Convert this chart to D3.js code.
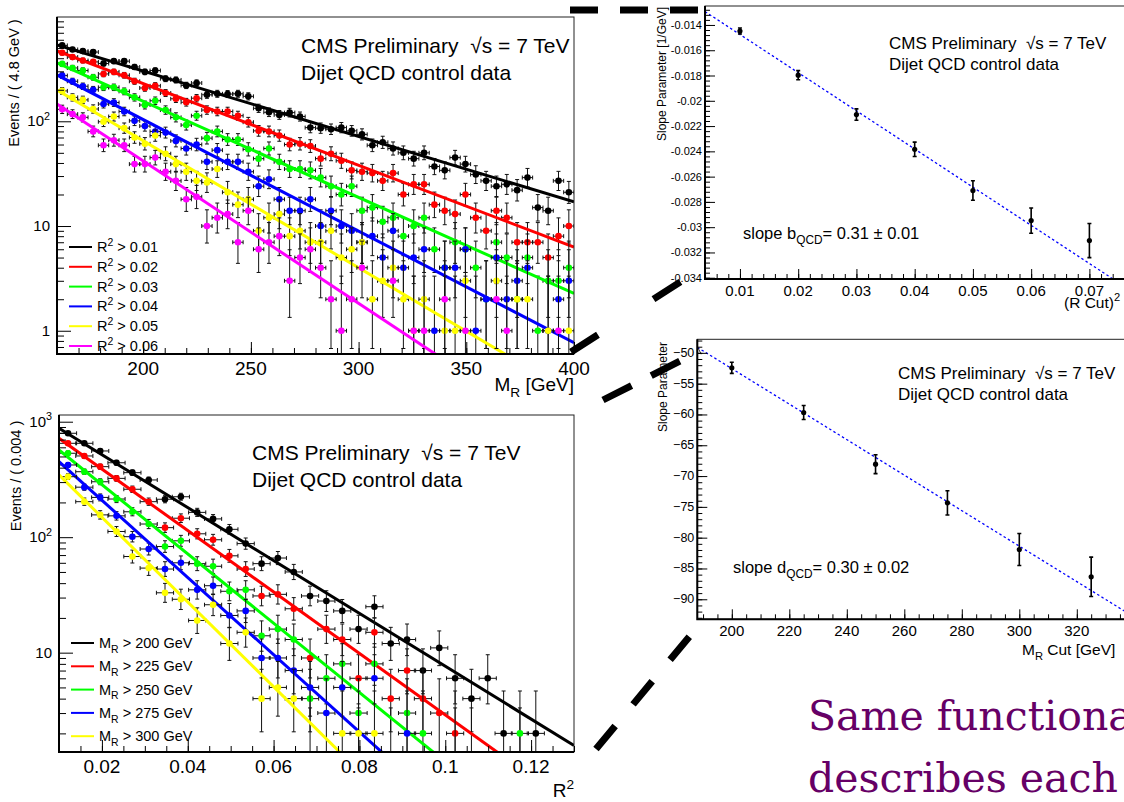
<!DOCTYPE html>
<html>
<head>
<meta charset="utf-8">
<script src="https://cdn.jsdelivr.net/npm/d3@7"></script>
<style>
  body { margin: 0; background: #fff; }
  svg { display: block; font-family: "Liberation Sans", Arial, sans-serif; }
</style>
</head>
<body>
<svg width="1124" height="802"></svg>
<script>
// ---- data ----
const cutColors = ["#000000", "#ff0000", "#00ff00", "#0000ff", "#ffff00", "#ff00ff"];

// top-left: M_R spectra (4.8 GeV bins) for R^2 cuts
const mrBins = [162.4, 167.2, 172, 176.8, 181.6, 186.4, 191.2, 196, 200.8, 205.6,
  210.4, 215.2, 220, 224.8, 229.6, 234.4, 239.2, 244, 248.8, 253.6,
  258.4, 263.2, 268, 272.8, 277.6, 282.4, 287.2, 292, 296.8, 301.6,
  306.4, 311.2, 316, 320.8, 325.6, 330.4, 335.2, 340, 344.8, 349.6,
  354.4, 359.2, 364, 368.8, 373.6, 378.4, 383.2, 388, 392.8, 397.6];
const r2Labels = ["R^{2} > 0.01", "R^{2} > 0.02", "R^{2} > 0.03", "R^{2} > 0.04", "R^{2} > 0.05", "R^{2} > 0.06"];
const mrR2gt001 = [530, 485, 468, 458, 356, 375, 375, 330, 296, 305, 255, 248, 220, 232, 179, 183, 182, 183, 173, 133,
  122, 115, 121, 111, 87, 86, 84, 87, 81, 75, 59, 63, 55, 50, 44, 50, 37, 34, 45, 39, 31, 27, 24, 25, 22, 29, 15, 14, 27, 21];
const mrR2gt002 = [451, 410, 380, 369, 283, 296, 275, 241, 208, 218, 186, 164, 152, 166, 128, 124, 124, 113, 98, 81,
  80, 73, 60, 61, 58, 44, 49, 42, 34, 33, 32, 27, 32, 20, 25, 25, 16, 14, 13, 20, 12, 9, 14, 12, 7, 7, 7, 5, 8, 10];
const mrR2gt003 = [353, 323, 305, 263, 211, 211, 193, 169, 143, 157, 128, 109, 92, 113, 69, 80, 67, 67, 54, 44,
  55, 41, 35, 35, 34, 29, 24, 20, 24, 14, 15, 11, 12, 8, 10, 12, 6, 4, 7, 6, 4, 2, 7, 5, 2, 5, 1, 3, 3, 4];
const mrR2gt004 = [273, 241, 216, 200, 146, 151, 124, 101, 90, 80, 78, 65, 55, 60, 41, 53, 41, 41, 33, 24,
  28, 18, 14, 14, 18, 10, 14, 10, 9, 7, 8, 5, 9, 4, 5, 6, 1, 4, 4, 6, 1, 2, 5, 2, 3, 4, 0, 1, 2, 3];
const mrR2gt005 = [195, 169, 160, 131, 99, 111, 86, 70, 61, 73, 49, 39, 33, 27, 26, 35, 21, 16, 18, 9,
  12, 13, 8, 9, 7, 7, 9, 5, 6, 7, 2, 3, 4, 2, 1, 2, 0, 1, 1, 3, 0, 0, 3, 0, 2, 2, 0, 1, 0, 1];
const mrR2gt006 = [130, 117, 109, 80, 59, 66, 59, 39, 39, 45, 33, 27, 18, 19, 10, 12, 13, 7, 14, 6,
  7, 8, 3, 5, 6, 4, 2, 1, 2, 4, 0, 0, 3, 0, 1, 1, 0, 2, 0, 1, 0, 0, 2, 1, 0, 0, 0, 0, 1, 0];
const mrFitAt160 = [537, 471, 361, 277, 199, 146];
const mrFitAt400 = [17, 6.3, 2.27, 0.77, 0.245, 0.080];

// bottom-left: R^2 spectra for M_R cuts
const r2Bins = [0.0121, 0.0159, 0.0196, 0.0234, 0.0271, 0.0309, 0.0347, 0.0384, 0.0422, 0.0459,
  0.0497, 0.0535, 0.0572, 0.0610, 0.0647, 0.0685, 0.0723, 0.0760, 0.0798, 0.0835,
  0.0873, 0.0911, 0.0948, 0.0986, 0.1023, 0.1061, 0.1099, 0.1136, 0.1174, 0.1211];
const mrLabels = ["M_{R} > 200 GeV", "M_{R} > 225 GeV", "M_{R} > 250 GeV", "M_{R} > 275 GeV", "M_{R} > 300 GeV"];
const r2Mrgt200 = [794, 650, 558, 441, 362, 313, 213, 224, 164, 144, 117, 88, 59, 66, 50, 31, 28, 23, 16, 25, 12, 13, 7, 11, 6, 4, 6, 2, 1, 2];
const r2Mrgt225 = [650, 505, 408, 323, 260, 203, 121, 146, 107, 95, 69, 53, 31, 32, 24, 9, 16, 13, 6, 15, 4, 7, 4, 3, 2, 1, 0, 0, 0, 0];
const r2Mrgt250 = [533, 369, 302, 214, 166, 130, 83, 93, 59, 56, 34, 35, 14, 16, 13, 4, 6, 8, 3, 8, 1, 3, 2, 0, 1, 0, 0, 0, 2, 0];
const r2Mrgt275 = [422, 271, 221, 153, 101, 79, 53, 60, 35, 38, 21, 23, 9, 9, 7, 5, 3, 5, 1, 6, 0, 2, 0, 0, 0, 0, 0, 0, 0, 0];
const r2Mrgt300 = [334, 203, 156, 112, 68, 54, 33, 29, 19, 26, 12, 15, 4, 5, 4, 1, 0, 2, 2, 2, 0, 0, 0, 0, 0, 0, 0, 0, 0, 0];
const r2FitAt001 = [877, 718, 569, 451, 346];
const r2FitAt013 = [1.57, 0.46, 0.143, 0.0438, 0.0137];

// top-right: M_R slope vs R^2 cut
const rCut = [0.01, 0.02, 0.03, 0.04, 0.05, 0.06, 0.07];
const slopeB = [-0.01448, -0.01797, -0.02109, -0.02384, -0.0271, -0.02948, -0.03106];
const slopeBErr = [0.00024, 0.00036, 0.00045, 0.00057, 0.00077, 0.001, 0.00135];
const bFitX = [0.004, 0.078];
const bFitY = [-0.01294, -0.03529];

// middle-right: R^2 slope vs M_R cut
const mrCut = [200, 225, 250, 275, 300, 325];
const slopeD = [-52.43, -59.68, -68.07, -74.35, -81.92, -86.36];
const slopeDErr = [0.9, 1.14, 1.54, 1.97, 2.6, 3.2];
const dFitX = [188, 340];
const dFitY = [-49.1, -92.9];

// ---- drawing ----
const svg = d3.select("svg");
const cmsLine = "CMS Preliminary\u00A0\u00A0\u221As = 7 TeV";

function rich(g, x, y, str, size, anchor) {
  const t = g.append("text").attr("x", x).attr("y", y)
    .attr("font-size", size).attr("text-anchor", anchor || "start");
  let shift = 0;
  str.split(/(_\{[^}]*\}|\^\{[^}]*\})/).filter(s => s).forEach(s => {
    let target = 0, txt = s, fs = size;
    if (s[0] === "_") { target = size * 0.32; txt = s.slice(2, -1); fs = size * 0.72; }
    if (s[0] === "^") { target = -size * 0.42; txt = s.slice(2, -1); fs = size * 0.72; }
    t.append("tspan").attr("dy", target - shift).attr("font-size", fs).text(txt);
    shift = target;
  });
  return t;
}

function ticks(g, scale, orient, at, values, size) {
  const axis = (orient === "left" ? d3.axisLeft(scale) : d3.axisBottom(scale))
    .tickValues(values).tickSize(-size).tickFormat("");
  g.append("g").attr("transform", orient === "left" ? `translate(${at},0)` : `translate(0,${at})`)
    .call(axis)
    .call(s => s.select(".domain").remove())
    .call(s => s.selectAll("line").attr("stroke", "#000"));
}

function frame(g, f, thick) {
  g.append("rect").attr("x", f.left).attr("y", f.top)
    .attr("width", f.right - f.left).attr("height", f.bottom - f.top)
    .attr("fill", "none").attr("stroke", "#222").attr("stroke-width", 1);
  g.append("path").attr("d", `M${f.left},${f.top}V${f.bottom}H${f.right}`)
    .attr("fill", "none").attr("stroke", "#000").attr("stroke-width", thick);
}

function logMinor(domain) {
  const out = [];
  for (let e = -2; e <= 4; e++) for (let m = 1; m <= 9; m++) {
    const v = m * Math.pow(10, e);
    if (v >= domain[0] && v <= domain[1]) out.push(v);
  }
  return out;
}

function garwood(n) { return [n - Math.sqrt(n - 0.25), n + 1 + Math.sqrt(n + 0.75)]; }

function spectrum(cfg) {
  const g = svg.append("g");
  const x = d3.scaleLinear().domain(cfg.xDomain).range([cfg.left, cfg.right]);
  const y = d3.scaleLog().domain(cfg.yDomain).range([cfg.bottom, cfg.top]);
  svg.append("clipPath").attr("id", cfg.id).append("rect")
    .attr("x", cfg.left).attr("y", cfg.top)
    .attr("width", cfg.right - cfg.left).attr("height", cfg.bottom - cfg.top);
  const plot = g.append("g").attr("clip-path", `url(#${cfg.id})`);
  const line = d3.line().x(d => x(d[0])).y(d => y(d[1]));

  cfg.series.forEach((counts, k) => {
    const pts = counts.map((n, i) => ({ x: cfg.bins[i], n })).filter(d => d.n > 0);
    const s = plot.append("g");
    s.append("g").attr("stroke", "#111").attr("stroke-width", 1).attr("fill", "none")
      .selectAll("path").data(pts).join("path")
      .attr("d", d => {
        const yy = y(d.n), x1 = x(d.x - cfg.halfBin), x2 = x(d.x + cfg.halfBin), xc = x(d.x);
        const [lo, hi] = garwood(d.n);
        const y1 = y(lo), y2 = y(hi);
        return `M${x1},${yy}H${x2}M${x1},${yy - 2}V${yy + 2}M${x2},${yy - 2}V${yy + 2}` +
          `M${xc},${y1}V${y2}M${xc - 2},${y2}H${xc + 2}M${xc - 2},${y1}H${xc + 2}`;
      });
    s.selectAll("circle").data(pts).join("circle")
      .attr("cx", d => x(d.x)).attr("cy", d => y(d.n)).attr("r", 3.3)
      .attr("fill", cutColors[k]);
    s.append("path")
      .attr("d", line([[cfg.xDomain[0], cfg.fitLo[k]], [cfg.xDomain[1], cfg.fitHi[k]]]))
      .attr("stroke", cutColors[k]).attr("stroke-width", 3).attr("fill", "none");
  });

  frame(g, cfg, 2);
  const yr = cfg.yDomain;
  const majors = [1, 10, 100, 1000].filter(v => v >= yr[0] && v <= yr[1]);
  ticks(g, y, "left", cfg.left, majors, 14);
  ticks(g, y, "left", cfg.left, logMinor(yr).filter(v => !majors.includes(v)), 7);
  ticks(g, x, "bottom", cfg.bottom, cfg.xMajor, 12);
  ticks(g, x, "bottom", cfg.bottom, cfg.xMinor, 6);

  majors.forEach(v => {
    const e = Math.round(Math.log10(v));
    const lab = e === 0 ? "1" : e === 1 ? "10" : `10^{${e}}`;
    rich(g, cfg.left - 7, y(v) + 5, lab, 15, "end");
  });
  cfg.xMajor.forEach(v => {
    g.append("text").attr("x", x(v)).attr("y", cfg.bottom + 21)
      .attr("font-size", 19).attr("text-anchor", "middle").text(cfg.xFmt(v));
  });
  rich(g, cfg.right, cfg.xTitleY, cfg.xTitle, 19, "end");
  g.append("text").attr("transform", `translate(${cfg.left - 38},${cfg.yTitleY}) rotate(-90)`)
    .attr("text-anchor", "middle").attr("font-size", 14.5).text(cfg.yTitle);

  rich(g, cfg.textX, cfg.textY, cmsLine, 21);
  rich(g, cfg.textX, cfg.textY + 27, "Dijet QCD control data", 21);

  cfg.labels.forEach((lab, k) => {
    const ly = cfg.legendY + k * cfg.legendStep;
    g.append("line").attr("x1", cfg.left + 12).attr("x2", cfg.left + 35)
      .attr("y1", ly).attr("y2", ly).attr("stroke", cutColors[k]).attr("stroke-width", 2);
    rich(g, cfg.left + 40, ly + 5, lab, 14.5);
  });
}

spectrum({
  id: "clipMR", left: 57, right: 574, top: 17, bottom: 354,
  xDomain: [160, 400], yDomain: [0.6, 990],
  bins: mrBins, halfBin: 2.4,
  series: [mrR2gt001, mrR2gt002, mrR2gt003, mrR2gt004, mrR2gt005, mrR2gt006],
  fitLo: mrFitAt160, fitHi: mrFitAt400,
  xMajor: [200, 250, 300, 350, 400], xMinor: d3.range(160, 401, 10), xFmt: d3.format("d"),
  xTitle: "M_{R} [GeV]", xTitleY: 391, yTitle: "Events / ( 4.8 GeV )", yTitleY: 83,
  textX: 301, textY: 53, labels: r2Labels, legendY: 247, legendStep: 19.8
});

spectrum({
  id: "clipR2", left: 59, right: 574, top: 415, bottom: 752,
  xDomain: [0.01, 0.13], yDomain: [1.38, 1143],
  bins: r2Bins, halfBin: 0.002,
  series: [r2Mrgt200, r2Mrgt225, r2Mrgt250, r2Mrgt275, r2Mrgt300],
  fitLo: r2FitAt001, fitHi: r2FitAt013,
  xMajor: [0.02, 0.04, 0.06, 0.08, 0.1, 0.12], xMinor: d3.range(0.01, 0.1301, 0.005),
  xFmt: v => String(+v.toFixed(2)),
  xTitle: "R^{2}", xTitleY: 797, yTitle: "Events / ( 0.004 )", yTitleY: 476,
  textX: 252, textY: 460, labels: mrLabels, legendY: 643, legendStep: 23.3
});

function slopePanel(cfg) {
  const g = svg.append("g");
  const x = d3.scaleLinear().domain(cfg.xDomain).range([cfg.left, cfg.right]);
  const y = d3.scaleLinear().domain(cfg.yDomain).range([cfg.bottom, cfg.top]);
  svg.append("clipPath").attr("id", cfg.id).append("rect")
    .attr("x", cfg.left).attr("y", cfg.top)
    .attr("width", cfg.right - cfg.left).attr("height", cfg.bottom - cfg.top);
  const plot = g.append("g").attr("clip-path", `url(#${cfg.id})`);

  plot.append("path")
    .attr("d", d3.line().x(d => x(d[0])).y(d => y(d[1]))(d3.zip(cfg.fitX, cfg.fitY)))
    .attr("stroke", "#0000ff").attr("stroke-width", 1.3).attr("stroke-dasharray", "2.5,2.5")
    .attr("fill", "none");

  const pts = cfg.xs.map((v, i) => ({ x: v, y: cfg.ys[i], e: cfg.errs[i] }));
  plot.append("g").attr("stroke", "#000").attr("stroke-width", 1.6).attr("fill", "none")
    .selectAll("path").data(pts).join("path")
    .attr("d", d => {
      const xc = x(d.x), y1 = y(d.y - d.e), y2 = y(d.y + d.e);
      return `M${xc},${y1}V${y2}M${xc - 2},${y1}H${xc + 2}M${xc - 2},${y2}H${xc + 2}`;
    });
  plot.selectAll("circle").data(pts).join("circle")
    .attr("cx", d => x(d.x)).attr("cy", d => y(d.y)).attr("r", 2.6).attr("fill", "#000");

  frame(g, cfg, 2);
  ticks(g, y, "left", cfg.left, cfg.yMajor, 10);
  ticks(g, y, "left", cfg.left, cfg.yMinor, 5);
  ticks(g, x, "bottom", cfg.bottom, cfg.xMajor, 10);
  ticks(g, x, "bottom", cfg.bottom, cfg.xMinor, 5);

  cfg.yMajor.forEach(v => {
    g.append("text").attr("x", cfg.left - 3).attr("y", y(v) + 4)
      .attr("font-size", cfg.yTickSize).attr("text-anchor", "end").text(cfg.yFmt(v));
  });
  cfg.xLabels.forEach(v => {
    g.append("text").attr("x", x(v)).attr("y", cfg.bottom + 17)
      .attr("font-size", 15).attr("text-anchor", "middle").text(cfg.xFmt(v));
  });
  rich(g, cfg.xTitleX, cfg.xTitleY, cfg.xTitle, 15.5);
  g.append("text").attr("transform", `translate(${cfg.yTitleX},${cfg.yTitleY}) rotate(-90)`)
    .attr("text-anchor", "middle").attr("font-size", 12).text(cfg.yTitle);

  rich(g, cfg.textX, cfg.textY, cmsLine, 17);
  rich(g, cfg.textX, cfg.textY + 21, "Dijet QCD control data", 17);
  rich(g, cfg.slopeX, cfg.slopeY, cfg.slopeText, 16.5);
}

slopePanel({
  id: "clipB", left: 705, right: 1136, top: 6, bottom: 279,
  xDomain: [0.004, 0.078], yDomain: [-0.0341, -0.0125],
  xs: rCut, ys: slopeB, errs: slopeBErr, fitX: bFitX, fitY: bFitY,
  yMajor: d3.range(-0.034, -0.0139, 0.002), yMinor: d3.range(-0.034, -0.0124, 0.0004),
  xMajor: [0.01, 0.02, 0.03, 0.04, 0.05, 0.06, 0.07], xMinor: d3.range(0.004, 0.0781, 0.002),
  xLabels: [0.01, 0.02, 0.03, 0.04, 0.05, 0.06, 0.07],
  yFmt: v => String(+v.toFixed(3)), yTickSize: 11,
  xFmt: v => String(+v.toFixed(2)),
  xTitle: "(R Cut)^{2}", xTitleX: 1064, xTitleY: 308,
  yTitle: "Slope Parameter [1/GeV]", yTitleX: 666, yTitleY: 74,
  textX: 889, textY: 49, slopeX: 743, slopeY: 239,
  slopeText: "slope b_{QCD}= 0.31 \u00B1 0.01"
});

slopePanel({
  id: "clipD", left: 697.3, right: 1134.3, top: 339.3, bottom: 619.3,
  xDomain: [188, 340], yDomain: [-93.25, -47.8],
  xs: mrCut, ys: slopeD, errs: slopeDErr, fitX: dFitX, fitY: dFitY,
  yMajor: d3.range(-90, -49, 5), yMinor: d3.range(-93, -47.9, 1),
  xMajor: [200, 220, 240, 260, 280, 300, 320, 340], xMinor: d3.range(190, 341, 5),
  xLabels: [200, 220, 240, 260, 280, 300, 320],
  yFmt: d3.format("d"), yTickSize: 12.5,
  xFmt: d3.format("d"),
  xTitle: "M_{R} Cut [GeV]", xTitleX: 1022, xTitleY: 655,
  yTitle: "Slope Parameter", yTitleX: 667, yTitleY: 387,
  textX: 898, textY: 379, slopeX: 733, slopeY: 573,
  slopeText: "slope d_{QCD}= 0.30 \u00B1 0.02"
});

// dashed callouts joining the panels
const callouts = [
  { a: [570, 10], b: [698, 10], dash: "28,22" },
  { a: [571, 352], b: [702, 268], dash: "32,66" },
  { a: [603, 400], b: [700, 351], dash: "32,22" },
  { a: [596, 749], b: [704, 619], dash: "30,28" }
];
svg.append("g").selectAll("line").data(callouts).join("line")
  .attr("x1", d => d.a[0]).attr("y1", d => d.a[1])
  .attr("x2", d => d.b[0]).attr("y2", d => d.b[1])
  .attr("stroke", "#000").attr("stroke-width", 7).attr("stroke-dasharray", d => d.dash);

const slide = svg.append("g").attr("font-family", "'DejaVu Serif', serif")
  .attr("fill", "#660066").attr("font-size", 41);
slide.append("text").attr("x", 808).attr("y", 730).text("Same functional form");
slide.append("text").attr("x", 808).attr("y", 792).text("describes each bin");
</script>
</body>
</html>
